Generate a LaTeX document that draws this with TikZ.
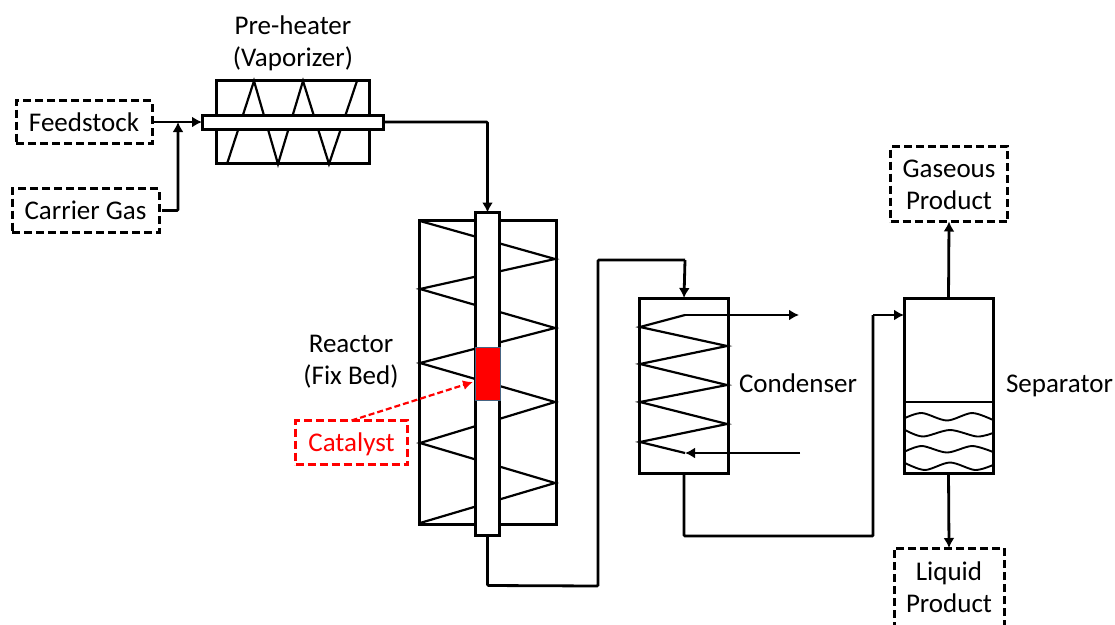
\documentclass[tikz,border=0pt]{standalone}
\usepackage{fontspec}
\setmainfont{Carlito}
\usetikzlibrary{arrows.meta,calc}
\tikzset{
  solidbox/.style={draw=black,line width=3pt,fill=white,inner sep=0pt,outer sep=0pt},
  vessel/.style={draw=black,line width=3pt,inner sep=0pt,outer sep=0pt},
  dashbox/.style={draw=black,line width=3pt,dash pattern=on 8pt off 4pt,inner sep=0pt,outer sep=0pt,align=center,font=\lab},
  flow/.style={line width=2.8pt,-{Latex[length=10pt,width=11pt]},rounded corners=1pt},
  pipe/.style={line width=2.8pt,rounded corners=1pt},
  thinflow/.style={line width=2.2pt,-{Latex[length=10pt,width=11pt]}},
  coil/.style={line width=2.2pt,line join=miter},
  wave/.style={line width=1.9pt},
  lbl/.style={inner sep=0pt,outer sep=0pt,align=center,font=\lab},
}
\newcommand{\lab}{\fontsize{27}{32}\selectfont}
\begin{document}
\begin{tikzpicture}[x=1pt,y=-1pt]
\useasboundingbox (0,0) rectangle (1115,624);
% pre-heater
\node[vessel,minimum width=153pt,minimum height=83pt] (pre) at (292.5,122) {};
\draw[coil] (227,164) -- (254,81) -- (278,164) -- (303,81) -- (329,164) -- (357,81);
\node[solidbox,minimum width=181pt,minimum height=14pt] (pretube) at (292.5,122) {};
% reactor
\node[vessel,minimum width=137pt,minimum height=304pt] (reactor) at (487.5,372.5) {};
\draw[coil] (420,221) -- (555,259) -- (420,289) -- (555,328) -- (420,363) -- (555,402) -- (420,443) -- (555,483) -- (420,523);
\node[solidbox,minimum width=24pt,minimum height=323pt] (rtube) at (487.5,374) {};
\node[draw={rgb,255:red,70;green,100;blue,130},line width=1pt,fill=red,minimum width=25pt,minimum height=53pt,inner sep=0pt,outer sep=0pt] (bed) at (487.5,373.5) {};
% condenser
\node[vessel,minimum width=89pt,minimum height=175pt] (cond) at (684,385.5) {};
\coordinate (cout) at (685,315);
\coordinate (cin) at (685,453);
\draw[coil] (cout) -- (640,327) -- (727,346) -- (640,364) -- (727,385) -- (640,402) -- (727,424) -- (640,442) -- (cin);
\coordinate (coolout) at (799,315);
\coordinate (coolin) at (800,453);
\draw[thinflow] (cout) -- (coolout);
\draw[thinflow] (coolin) -- (cin);
% separator
\node[vessel,minimum width=89pt,minimum height=175pt] (sep) at (948.5,385.5) {};
\coordinate (levl) at (904,402);
\coordinate (levr) at (994,402);
\draw[line width=2pt] (levl) -- (levr);
\draw[wave] plot[smooth] coordinates {(905,418) (922,413) (947,420.5) (972,413) (993,420)};
\draw[wave] plot[smooth] coordinates {(905,430) (923,436.5) (950,430) (977,436.5) (993,433)};
\draw[wave] plot[smooth] coordinates {(905,451.5) (922,446) (947,452.5) (972,446) (993,452)};
\draw[wave] plot[smooth] coordinates {(905,463) (925,470) (950,462.5) (975,470) (993,465)};
% terminals
\node[dashbox,minimum width=136pt,minimum height=43pt] (feed) at (84,122) {Feedstock};
\node[dashbox,minimum width=147pt,minimum height=44pt] (carrier) at (85.5,210.5) {Carrier Gas};
\node[dashbox,minimum width=117pt,minimum height=75pt] (gas) at (949,184) {};
\node[lbl] (lgas) at (949,185) {Gaseous\\Product};
\node[dashbox,minimum width=110pt,minimum height=90pt] (liquid) at (949,593) {};
\node[lbl] (lliquid) at (949,587) {Liquid\\Product};
\node[dashbox,draw=red,minimum width=112pt,minimum height=44pt] (cat) at (351.5,442.5) {};
\node[lbl,text=red] (lcat) at (351.5,444) {Catalyst};
% labels
\node[lbl] (lpre) at (293,43.5) {Pre-heater\\(Vaporizer)};
\node[lbl] (lreact) at (351,361.5) {Reactor\\(Fix Bed)};
\node[lbl,anchor=west] (lcond) at (739,383) {Condenser};
\node[lbl,anchor=west] (lsep) at (1006,386) {Separator};
% connectors
\coordinate (tee) at (178,122);
\draw[flow,shorten <=2pt] (feed.east) -- (pretube.west);
\draw[flow,shorten <=3pt] (carrier.east) -| (tee);
\draw[flow] (pretube.east) -| (rtube.north);
\coordinate (r1) at (598,586);
\coordinate (r2) at (598,260);
\draw[pipe] (rtube.south) -- ($(rtube.south)+(0,50)$) -- (r1) -- (r2) -- (685,260);
\draw[flow] (685,260) -- (cond.north);
\coordinate (c1) at (873,536);
\coordinate (c2) at (873,315);
\draw[pipe] (cond.south) |- (c1) -- (c2);
\draw[flow] (c2) -- (c2-|sep.west);
\draw[flow] (sep.north) -- (gas.south);
\draw[flow] (sep.south) -- (liquid.north);
\draw[red,line width=2.2pt,dash pattern=on 6pt off 3pt,-{Latex[length=10pt,width=10pt]}] (cat.north) -- (473,382);
\end{tikzpicture}
\end{document}
